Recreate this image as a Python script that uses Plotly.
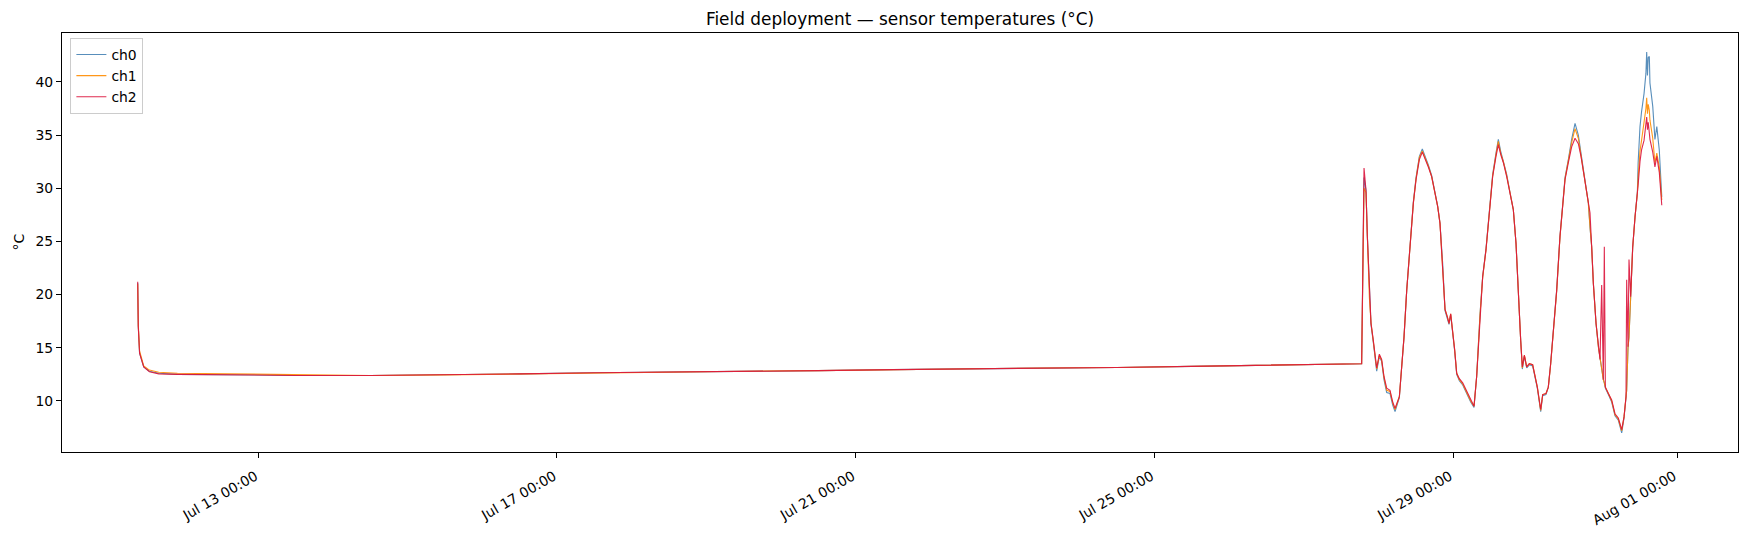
import plotly.graph_objects as go

# ---- data ----
times = [
    "2024-07-11 09:14", "2024-07-11 09:25", "2024-07-11 09:50", "2024-07-11 11:10",
    "2024-07-11 13:00", "2024-07-11 16:00", "2024-07-11 22:00", "2024-07-12 12:00",
    "2024-07-13 00:00", "2024-07-13 12:00", "2024-07-14 12:00", "2024-07-15 12:00",
    "2024-07-16 12:00", "2024-07-17 12:00", "2024-07-18 12:00", "2024-07-19 12:00",
    "2024-07-20 12:00", "2024-07-21 12:00", "2024-07-22 12:00", "2024-07-23 12:00",
    "2024-07-24 12:00", "2024-07-25 12:00", "2024-07-26 12:00", "2024-07-27 12:00",
    "2024-07-27 18:38",
    "2024-07-27 19:24", "2024-07-27 20:02", "2024-07-27 20:28", "2024-07-27 21:07",
    "2024-07-27 21:38", "2024-07-27 22:23", "2024-07-27 22:56", "2024-07-27 23:28",
    "2024-07-28 00:19", "2024-07-28 01:04", "2024-07-28 01:49", "2024-07-28 02:41",
    "2024-07-28 03:45", "2024-07-28 04:37", "2024-07-28 05:22", "2024-07-28 06:07",
    "2024-07-28 06:45", "2024-07-28 07:30", "2024-07-28 08:15", "2024-07-28 09:07",
    "2024-07-28 10:11", "2024-07-28 11:15", "2024-07-28 12:07", "2024-07-28 13:11",
    "2024-07-28 14:08", "2024-07-28 15:00", "2024-07-28 16:04", "2024-07-28 17:08",
    "2024-07-28 18:13", "2024-07-28 19:04", "2024-07-28 19:49", "2024-07-28 20:41",
    "2024-07-28 21:26", "2024-07-28 22:11", "2024-07-28 22:43", "2024-07-28 23:15",
    "2024-07-28 23:53",
    "2024-07-29 00:32", "2024-07-29 01:11", "2024-07-29 02:02", "2024-07-29 03:07",
    "2024-07-29 04:23", "2024-07-29 05:41", "2024-07-29 06:45", "2024-07-29 07:36",
    "2024-07-29 08:41", "2024-07-29 09:32", "2024-07-29 10:36", "2024-07-29 11:41",
    "2024-07-29 12:45", "2024-07-29 13:49", "2024-07-29 14:34", "2024-07-29 15:19",
    "2024-07-29 16:11", "2024-07-29 17:15", "2024-07-29 18:19", "2024-07-29 19:23",
    "2024-07-29 20:15", "2024-07-29 21:00", "2024-07-29 21:45", "2024-07-29 22:17",
    "2024-07-29 22:56", "2024-07-29 23:41",
    "2024-07-30 00:32", "2024-07-30 01:36", "2024-07-30 02:21", "2024-07-30 03:06",
    "2024-07-30 04:11", "2024-07-30 04:49", "2024-07-30 05:53", "2024-07-30 06:38",
    "2024-07-30 07:23", "2024-07-30 08:15", "2024-07-30 09:19", "2024-07-30 10:23",
    "2024-07-30 11:15", "2024-07-30 12:00", "2024-07-30 13:04", "2024-07-30 14:08",
    "2024-07-30 15:13", "2024-07-30 16:17", "2024-07-30 17:08", "2024-07-30 17:53",
    "2024-07-30 18:45", "2024-07-30 19:30", "2024-07-30 20:02", "2024-07-30 20:34",
    "2024-07-30 21:06", "2024-07-30 21:58", "2024-07-30 22:43", "2024-07-30 23:15",
    "2024-07-30 23:47",
    "2024-07-31 00:19", "2024-07-31 00:38", "2024-07-31 00:58", "2024-07-31 01:56",
    "2024-07-31 03:00", "2024-07-31 04:04", "2024-07-31 05:08", "2024-07-31 06:13",
    "2024-07-31 06:58", "2024-07-31 07:36", "2024-07-31 07:49", "2024-07-31 08:15",
    "2024-07-31 08:34", "2024-07-31 09:06", "2024-07-31 09:45", "2024-07-31 10:30",
    "2024-07-31 11:15", "2024-07-31 11:30", "2024-07-31 12:06", "2024-07-31 12:36",
    "2024-07-31 13:24", "2024-07-31 14:00", "2024-07-31 14:15", "2024-07-31 14:30",
    "2024-07-31 14:45", "2024-07-31 15:06", "2024-07-31 15:18", "2024-07-31 16:12",
    "2024-07-31 16:54", "2024-07-31 17:30", "2024-07-31 18:18", "2024-07-31 19:06",
]

ch0 = [
    21.1, 17.0, 14.5, 13.2, 12.8, 12.6, 12.5, 12.45,
    12.4, 12.4, 12.4, 12.45, 12.55, 12.65, 12.7, 12.8,
    12.85, 12.95, 13.0, 13.1, 13.15, 13.25, 13.35, 13.45,
    13.5,
    31.0, 29.8, 25.5, 19.9, 17.2, 15.5, 14.3, 12.8,
    14.2, 13.7, 12.0, 10.8, 10.7, 9.6, 9.0, 9.6,
    10.3, 13.2, 16.0, 20.4, 24.8, 28.7, 31.0, 33.0,
    33.7, 33.1, 32.2, 31.2, 29.6, 28.3, 26.7, 22.9,
    18.5, 17.8, 17.2, 18.1, 16.6,
    14.7, 12.5, 11.9, 11.5, 10.7, 9.9, 9.4, 12.3,
    18.2, 21.7, 24.3, 28.1, 31.3, 33.3, 34.6, 33.5,
    32.6, 31.3, 29.6, 28.0, 24.8, 19.8, 15.7, 13.0,
    14.2, 13.1,
    13.4, 13.3, 12.2, 11.2, 9.0, 10.5, 10.6, 11.3,
    13.5, 16.7, 20.4, 25.5, 28.7, 31.0, 32.7, 34.6,
    36.1, 35.0, 33.3, 31.9, 30.3, 28.6, 26.3, 24.5,
    21.1, 17.3, 15.1, 13.9, 13.0,
    12.0, 11.7, 11.2, 10.6, 9.9, 8.6, 8.2, 7.0,
    8.4, 10.3, 11.0, 15.0, 16.0, 19.8, 24.4, 27.3,
    29.6, 32.4, 35.8, 37.2, 38.9, 40.8, 42.8, 40.6,
    42.3, 42.4, 39.9, 37.7, 34.6, 35.8, 33.6, 29.2,
]

ch1 = [
    21.0, 17.2, 14.7, 13.3, 12.9, 12.7, 12.6, 12.55,
    12.5, 12.45, 12.4, 12.45, 12.55, 12.65, 12.7, 12.8,
    12.85, 12.95, 13.0, 13.1, 13.15, 13.25, 13.35, 13.45,
    13.5,
    30.0, 29.6, 25.5, 19.7, 17.4, 15.7, 14.5, 13.0,
    14.3, 13.8, 12.2, 11.0, 10.9, 9.8, 9.2, 9.8,
    10.4, 13.2, 16.0, 20.4, 24.7, 28.6, 30.9, 32.9,
    33.5, 32.9, 32.1, 31.1, 29.5, 28.3, 26.7, 22.9,
    18.6, 17.9, 17.3, 18.2, 16.7,
    14.8, 12.6, 12.0, 11.6, 10.8, 10.0, 9.5, 12.3,
    18.1, 21.6, 24.2, 28.0, 31.2, 33.2, 34.4, 33.3,
    32.5, 31.2, 29.5, 28.0, 24.8, 19.8, 15.7, 13.1,
    14.3, 13.2,
    13.5, 13.4, 12.3, 11.3, 9.1, 10.6, 10.7, 11.3,
    13.4, 16.6, 20.3, 25.4, 28.6, 30.9, 32.6, 34.3,
    35.6, 34.7, 33.1, 31.8, 30.2, 28.6, 26.4, 24.5,
    21.1, 17.3, 15.1, 13.9, 13.0,
    12.0, 11.7, 11.3, 10.7, 10.0, 8.7, 8.3, 7.2,
    8.5, 10.4, 11.0, 15.1, 16.0, 19.8, 24.4, 27.3,
    29.5, 31.0, 33.5, 34.5, 36.0, 37.5, 38.5, 37.0,
    37.9, 37.3, 36.4, 34.7, 32.4, 33.3, 32.0, 28.9,
]

ch2 = [
    21.2, 17.0, 14.5, 13.2, 12.75, 12.55, 12.5, 12.45,
    12.4, 12.4, 12.4, 12.45, 12.55, 12.65, 12.7, 12.8,
    12.85, 12.95, 13.0, 13.1, 13.15, 13.25, 13.35, 13.45,
    13.5,
    31.9, 29.8, 25.5, 19.8, 17.3, 15.7, 14.6, 13.1,
    14.4, 13.9, 12.3, 11.2, 11.0, 9.9, 9.3, 9.9,
    10.4, 13.2, 16.0, 20.4, 24.8, 28.6, 30.8, 32.7,
    33.4, 32.8, 32.0, 31.1, 29.5, 28.3, 26.7, 22.9,
    18.6, 17.9, 17.3, 18.2, 16.7,
    14.8, 12.6, 12.1, 11.7, 10.9, 10.1, 9.5, 12.3,
    18.2, 21.7, 24.2, 28.0, 31.1, 33.0, 34.1, 33.2,
    32.4, 31.1, 29.5, 28.0, 24.8, 19.8, 15.7, 13.2,
    14.3, 13.2,
    13.5, 13.4, 12.3, 11.3, 9.2, 10.6, 10.7, 11.3,
    13.5, 16.7, 20.4, 25.5, 28.6, 30.8, 32.4, 33.9,
    34.7, 34.2, 33.0, 31.7, 30.2, 28.6, 27.7, 24.5,
    21.1, 17.3, 15.1, 13.9, 20.9,
    12.0, 24.5, 11.3, 10.7, 10.1, 8.8, 8.4, 7.3,
    8.5, 10.4, 21.4, 15.1, 23.3, 19.8, 24.5, 27.3,
    29.4, 30.3, 32.5, 33.6, 34.5, 35.8, 36.7, 35.5,
    36.2, 35.2, 34.6, 33.4, 32.0, 33.0, 31.5, 28.4,
]

names = ["ch0", "ch1", "ch2"]
colors = ["#4682b4", "#ff8c00", "#dc143c"]

tick_vals = ["2024-07-13 00:00", "2024-07-17 00:00", "2024-07-21 00:00",
             "2024-07-25 00:00", "2024-07-29 00:00", "2024-08-01 00:00"]
tick_text = ["Jul 13 00:00", "Jul 17 00:00", "Jul 21 00:00",
             "Jul 25 00:00", "Jul 29 00:00", "Aug 01 00:00"]
y_ticks = [10, 15, 20, 25, 30, 35, 40]

FONT = "DejaVu Sans"
# the page body has an 8px default margin, so the figure is drawn 8px in
W, H = 1740, 530

fig = go.Figure()
for name, vals, col in zip(names, [ch0, ch1, ch2], colors):
    fig.add_trace(go.Scatter(
        x=times, y=vals, mode="lines", name=name, legendgroup=name,
        line=dict(color=col, width=1.1), opacity=0.9,
    ))

fig.update_layout(
    width=W, height=H, autosize=False,
    paper_bgcolor="white", plot_bgcolor="white",
    margin=dict(l=54, r=10, t=25, b=86),
    font=dict(family=FONT, size=14, color="#000000"),
    title=dict(text="Field deployment — sensor temperatures (°C)",
               x=(54 + W - 10) / 2 / W, xanchor="center",
               y=1 - 11 / H, yanchor="middle", yref="container",
               font=dict(family=FONT, size=16.9, color="#000000")),
    showlegend=True,
    legend=dict(x=0.005, y=0.988, xanchor="left", yanchor="top",
                bgcolor="rgba(255,255,255,0.85)", bordercolor="#cccccc",
                borderwidth=1, tracegroupgap=2.5, traceorder="normal",
                entrywidth=68, entrywidthmode="pixels",
                font=dict(family=FONT, size=13.9)),
)

fig.update_xaxes(
    type="date",
    range=["2024-07-10 08:54", "2024-08-01 19:36"],
    tickmode="array", tickvals=tick_vals, ticktext=tick_text,
    tickangle=-30, ticks="outside", ticklen=5, tickwidth=1, tickcolor="black",
    ticklabelstandoff=5, ticklabelshift=-3,
    showline=True, linecolor="black", linewidth=1, mirror=True,
    showgrid=False, zeroline=False,
    tickfont=dict(family=FONT, size=13.9, color="black"),
)
fig.update_yaxes(
    range=[5.2, 44.6],
    tickmode="array", tickvals=y_ticks,
    ticks="outside", ticklen=5, tickwidth=1, tickcolor="black",
    showline=True, linecolor="black", linewidth=1, mirror=True,
    showgrid=False, zeroline=False,
    tickfont=dict(family=FONT, size=13.9, color="black"),
)

fig.add_annotation(
    text="°C", textangle=-90, xref="paper", yref="paper",
    x=(18 - 62) / 1676, y=0.5, xanchor="center", yanchor="middle",
    showarrow=False, font=dict(family=FONT, size=13.9, color="black"),
)

fig.write_html("out.html")
